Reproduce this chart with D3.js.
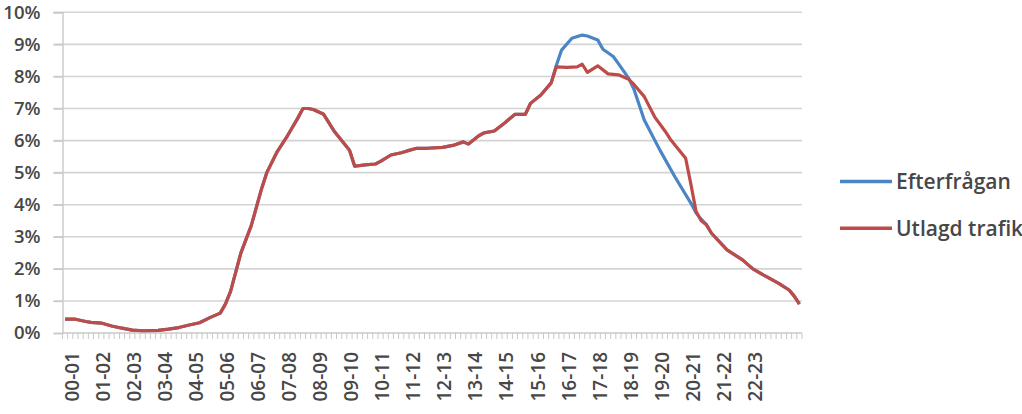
<!DOCTYPE html>
<html><head><meta charset="utf-8">
<script src="https://cdn.jsdelivr.net/npm/d3@7"></script>
<style>
html,body{margin:0;padding:0;background:#fff;}
svg{display:block;}
text{font-family:"Open Sans",sans-serif;fill:#474747;}
</style></head>
<body>
<svg id="chart" width="1022" height="414"></svg>
<script>
const tickLabels = ["00-01","01-02","02-03","03-04","04-05","05-06","06-07","07-08","08-09","09-10","10-11","11-12","12-13","13-14","14-15","15-16","16-17","17-18","18-19","19-20","20-21","21-22","22-23"];
const yTicks = [0,1,2,3,4,5,6,7,8,9,10];
const seriesNames = ["Efterfrågan","Utlagd trafik"];
const seriesColors = ["#4a86c5","#be4b48"];

// Utlagd trafik: period index, value (%)
const utlagdIdx = [0,2,4,5,7,9,11,13,15,18,20,22,24,26,28,30,31,32,33,34,36,38,39,41,43,45,46,47,48,50,52,55,56,58,60,61,63,65,66,68,70,73,75,77,78,80,81,83,85,87,89,90,92,94,95,97,99,100,101,103,105,107,109,110,112,114,116,117,118,120,121,122,123,124,125,128,131,133,135,138,140,141,142];
const utlagdVal = [0.43,0.43,0.36,0.33,0.31,0.22,0.15,0.09,0.07,0.08,0.12,0.17,0.25,0.32,0.48,0.62,0.9,1.3,1.9,2.5,3.35,4.5,5.0,5.65,6.15,6.7,7.0,7.0,6.97,6.82,6.3,5.7,5.2,5.24,5.27,5.35,5.55,5.62,5.67,5.76,5.76,5.79,5.85,5.96,5.89,6.15,6.24,6.3,6.55,6.82,6.82,7.16,7.42,7.8,8.3,8.28,8.3,8.38,8.13,8.33,8.08,8.05,7.91,7.75,7.37,6.74,6.3,6.05,5.85,5.45,4.65,3.8,3.5,3.38,3.11,2.59,2.28,2.0,1.81,1.55,1.34,1.15,0.9];

// Efterfrågan: period index, value (%)
const efterIdx = [0,2,4,5,7,9,11,13,15,18,20,22,24,26,28,30,31,32,33,34,36,38,39,41,43,45,46,47,48,50,52,55,56,58,60,61,63,65,66,68,70,73,75,77,78,80,81,83,85,87,89,90,92,94,95,96,98,100,101,103,104,106,107,109,110,112,115,118,121,122,123,124,125,128,131,133,135,138,140,141,142];
const efterVal = [0.43,0.43,0.36,0.33,0.31,0.22,0.15,0.09,0.07,0.08,0.12,0.17,0.25,0.32,0.48,0.62,0.9,1.3,1.9,2.5,3.35,4.5,5.0,5.65,6.15,6.7,7.0,7.0,6.97,6.82,6.3,5.7,5.2,5.24,5.27,5.35,5.55,5.62,5.67,5.76,5.76,5.79,5.85,5.96,5.89,6.15,6.24,6.3,6.55,6.82,6.82,7.16,7.42,7.8,8.35,8.82,9.19,9.29,9.26,9.14,8.85,8.62,8.4,7.94,7.6,6.64,5.71,4.85,4.05,3.75,3.55,3.38,3.11,2.59,2.28,2.0,1.81,1.55,1.34,1.15,0.9];

const nPeriods = 143;
const labelEvery = 6, labelStart = 1;

const svg = d3.select("#chart");
const mLeft = 62.5, mRight = 802, mTop = 12.3, mBottom = 333;

const x = d3.scaleLinear().domain([-0.5, nPeriods - 0.5]).range([mLeft, mRight]);
const y = d3.scaleLinear().domain([0, 10]).range([mBottom, mTop]);

// gridlines
svg.append("g").selectAll("line").data(yTicks.filter(d => d > 0)).join("line")
  .attr("x1", mLeft - 9).attr("x2", mRight)
  .attr("y1", d => y(d)).attr("y2", d => y(d))
  .attr("stroke", "#d4d4d4").attr("stroke-width", 1.6);

// y axis
const yAxis = d3.axisLeft(y).tickValues(yTicks).tickFormat(d => d + "%").tickSize(9).tickPadding(14);
const yg = svg.append("g").attr("transform", `translate(${mLeft},0)`).call(yAxis);
yg.select(".domain").attr("stroke", "#c8c8c8").attr("stroke-width", 1.4);
yg.selectAll(".tick line").attr("stroke", "#c8c8c8").attr("stroke-width", 1.4);
yg.selectAll("text").attr("font-size", 18.5).attr("font-weight", 600).attr("fill", "#474747")
  .attr("font-family", "Open Sans").attr("x", -22);

// x axis with a tick at every period boundary
const boundaries = d3.range(nPeriods + 1).map(i => i - 0.5);
const xg = svg.append("g").attr("transform", `translate(0,${mBottom})`);
xg.append("line").attr("x1", mLeft).attr("x2", mRight).attr("y1", 0).attr("y2", 0)
  .attr("stroke", "#c8c8c8").attr("stroke-width", 1.6);
xg.selectAll("line.t").data(boundaries).join("line").attr("class", "t")
  .attr("x1", d => x(d)).attr("x2", d => x(d)).attr("y1", 0).attr("y2", 6)
  .attr("stroke", "#c8c8c8").attr("stroke-width", 1);
xg.selectAll("text").data(tickLabels).join("text")
  .attr("transform", (d, i) => `translate(${x(labelStart + i * labelEvery) + 2},${19}) rotate(-90)`)
  .attr("text-anchor", "end").attr("dy", "0.36em")
  .attr("font-size", 19).attr("font-weight", 600).attr("fill", "#474747")
  .text(d => d);

// lines
const line = d3.line().x(d => x(d[0])).y(d => y(d[1]));
const efterData = efterIdx.map((d, i) => [d, efterVal[i]]);
const utlagdData = utlagdIdx.map((d, i) => [d, utlagdVal[i]]);
svg.append("path").datum(efterData).attr("d", line).attr("fill", "none")
  .attr("stroke", seriesColors[0]).attr("stroke-width", 3.2).attr("stroke-linejoin", "round");
svg.append("path").datum(utlagdData).attr("d", line).attr("fill", "none")
  .attr("stroke", seriesColors[1]).attr("stroke-width", 3.2).attr("stroke-linejoin", "round");

// legend
const lg = svg.append("g");
seriesNames.forEach((name, i) => {
  const ly = 181.5 + i * 46.8;
  lg.append("line").attr("x1", 840).attr("x2", 892).attr("y1", ly).attr("y2", ly)
    .attr("stroke", seriesColors[i]).attr("stroke-width", 3.6);
  lg.append("text").attr("x", 896).attr("y", ly).attr("dy", "0.35em")
    .attr("font-size", 21).attr("font-weight", 600).attr("fill", "#474747").text(name);
});
</script>
</body></html>
